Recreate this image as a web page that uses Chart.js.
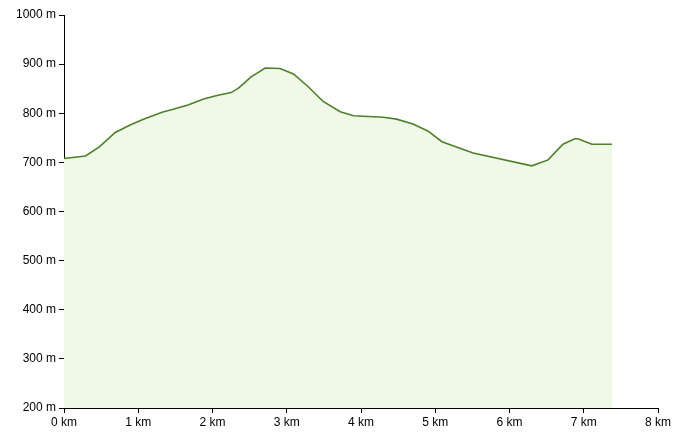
<!DOCTYPE html>
<html>
<head>
<meta charset="utf-8">
<script src="https://cdn.jsdelivr.net/npm/chart.js@4/dist/chart.umd.min.js"></script>
<style>
html,body{margin:0;padding:0;background:#fff;}
#wrap{width:682px;height:439px;position:relative;}
</style>
</head>
<body>
<div id="wrap"><canvas id="c" width="682" height="439"></canvas></div>
<script>
const distances = [0, 0.29, 0.48, 0.69, 0.89, 1.07, 1.32, 1.47, 1.67, 1.88, 2.06, 2.25, 2.35, 2.52, 2.71, 2.91, 3.09, 3.29, 3.49, 3.72, 3.9, 4.3, 4.48, 4.7, 4.9, 5.09, 5.51, 6.3, 6.52, 6.72, 6.88, 6.92, 7.11, 7.38];
const elevations = [708, 713, 732, 761, 776, 788, 802, 808, 817, 829, 836, 842, 851, 874, 892, 891, 880, 854, 824, 803, 795, 792, 788, 778, 764, 742, 719, 693, 705, 737, 748, 748, 737, 737];
const xTicks = [0, 1, 2, 3, 4, 5, 6, 7, 8];
const yTicks = [200, 300, 400, 500, 600, 700, 800, 900, 1000];

const points = distances.map((d, i) => ({x: d, y: elevations[i]}));

new Chart(document.getElementById('c'), {
  type: 'line',
  data: {
    datasets: [{
      data: points,
      borderColor: '#4f7f2c',
      borderWidth: 1.6,
      backgroundColor: '#f0f8e7',
      fill: 'origin',
      pointRadius: 0,
      tension: 0
    }]
  },
  options: {
    responsive: false,
    animation: false,
    devicePixelRatio: 1,
    layout: {padding: {top: 15, right: 24, left: 0, bottom: 0}},
    plugins: {legend: {display: false}, tooltip: {enabled: false}},
    scales: {
      x: {
        type: 'linear',
        min: xTicks[0], max: xTicks[xTicks.length - 1],
        afterBuildTicks: s => { s.ticks = xTicks.map(v => ({value: v})); },
        afterFit: s => { s.height = 31; },
        ticks: {
          callback: v => v + ' km',
          color: '#000',
          font: {family: 'Liberation Sans', size: 12},
          padding: 2,
          maxRotation: 0
        },
        grid: {display: true, drawOnChartArea: false, drawTicks: true, tickLength: 5, color: '#000'},
        border: {display: true, color: '#000', width: 1}
      },
      y: {
        type: 'linear',
        min: yTicks[0], max: yTicks[yTicks.length - 1],
        afterBuildTicks: s => { s.ticks = yTicks.map(v => ({value: v})); },
        afterFit: s => { s.width = 64; },
        ticks: {
          callback: v => v + ' m',
          color: '#000',
          font: {family: 'Liberation Sans', size: 12},
          padding: 3
        },
        grid: {display: true, drawOnChartArea: false, drawTicks: true, tickLength: 5, color: '#000'},
        border: {display: true, color: '#000', width: 1}
      }
    }
  }
});
</script>
</body>
</html>
